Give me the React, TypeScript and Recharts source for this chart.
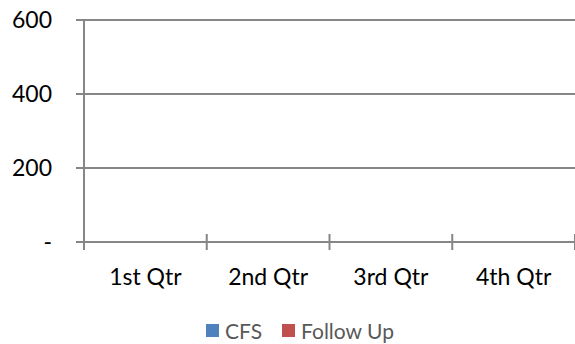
import { BarChart, Bar, XAxis, YAxis, CartesianGrid, Legend } from "recharts";

const CATEGORIES = ["1st Qtr", "2nd Qtr", "3rd Qtr", "4th Qtr"];
const CFS = [0, 0, 0, 0];
const FOLLOW_UP = [0, 0, 0, 0];
const Y_TICKS = [0, 200, 400, 600];

const data = CATEGORIES.map((name, i) => ({ name, cfs: CFS[i], followUp: FOLLOW_UP[i] }));

const AXIS = "#868686";
const FONT = "Lato, 'Open Sans', sans-serif";

function QtrTick(props: any) {
  const { x, y, payload, index } = props;
  const half = payload && payload.offset ? payload.offset : 61.4;
  const left = x - half;
  const right = x + half;
  return (
    <g>
      <line x1={left} x2={left} y1={y - 8} y2={y + 8} stroke={AXIS} strokeWidth={2} />
      {index === CATEGORIES.length - 1 && (
        <line x1={right} x2={right} y1={y - 8} y2={y + 8} stroke={AXIS} strokeWidth={2} />
      )}
      <text x={x} y={y + 43} textAnchor="middle" fontSize={23} fontFamily={FONT} fill="#000">
        {payload.value}
      </text>
    </g>
  );
}

function LegendBox() {
  const items = [
    { label: "CFS", color: "#4F81BD" },
    { label: "Follow Up", color: "#C0504D" },
  ];
  return (
    <div style={{ display: "flex", justifyContent: "center", alignItems: "center", height: 28, paddingLeft: 25, fontFamily: FONT, fontSize: 21, color: "#595959" }}>
      {items.map((it) => (
        <span key={it.label} style={{ display: "flex", alignItems: "center", margin: "0 10px" }}>
          <span style={{ width: 13, height: 13, background: it.color, marginRight: 6, display: "inline-block" }} />
          {it.label}
        </span>
      ))}
    </div>
  );
}

export default function App() {
  return (
    <div style={{ position: "fixed", left: 0, top: 0, width: 575, height: 344, background: "#fff" }}>
      <BarChart width={575} height={344} data={data} margin={{ top: 20, right: 0, left: 0, bottom: 0 }}>
        <CartesianGrid horizontal vertical={false} stroke={AXIS} strokeWidth={2} />
        <XAxis
          dataKey="name"
          height={74}
          axisLine={{ stroke: AXIS, strokeWidth: 2 }}
          tickLine={false}
          tickSize={0}
          tickMargin={0}
          interval={0}
          tick={<QtrTick />}
        />
        <YAxis
          width={84}
          domain={[0, 600]}
          ticks={Y_TICKS}
          interval={0}
          axisLine={{ stroke: AXIS, strokeWidth: 2 }}
          tickLine={{ stroke: AXIS, strokeWidth: 2 }}
          tickSize={8}
          tickMargin={24}
          tickFormatter={(v: number) => (v === 0 ? "-" : String(v))}
          tick={{ fontSize: 23, fontFamily: FONT, fill: "#000" }}
        />
        <Legend verticalAlign="bottom" content={<LegendBox />} />
        <Bar dataKey="cfs" name="CFS" fill="#4F81BD" isAnimationActive={false} />
        <Bar dataKey="followUp" name="Follow Up" fill="#C0504D" isAnimationActive={false} />
      </BarChart>
    </div>
  );
}
